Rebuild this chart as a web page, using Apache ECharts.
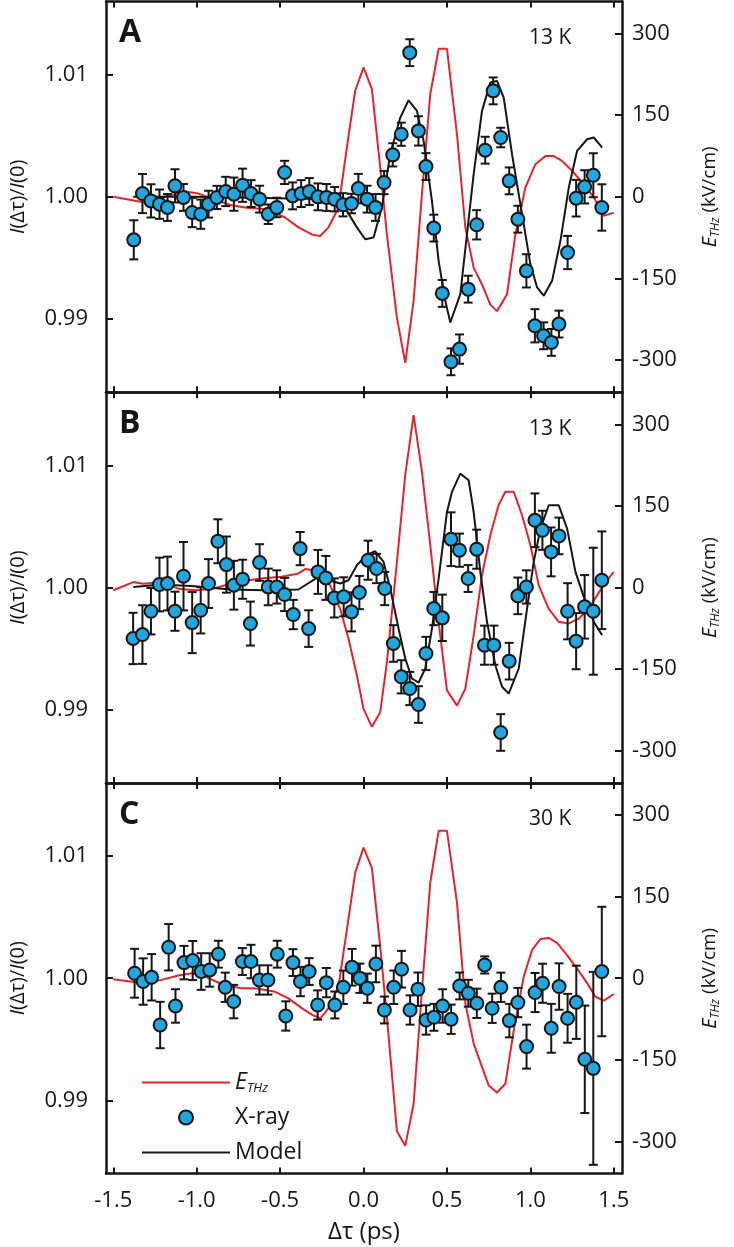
<!DOCTYPE html>
<html><head><meta charset="utf-8">
<script src="https://cdn.jsdelivr.net/npm/echarts@6/dist/echarts.min.js"></script>
<style>html,body{margin:0;padding:0;background:#fff}#c{width:734px;height:1247px}</style>
</head><body><div id="c"></div>
<script>
const xTicks = [-1.5, -1.0, -0.5, 0, 0.5, 1.0, 1.5];
const leftTicks = [0.99, 1.00, 1.01];
const rightTicks = [-300, -150, 0, 150, 300];
const panelLetters = ['A', 'B', 'C'];
const panelTemps = ['13 K', '13 K', '30 K'];
const legendNames = ['E_THz', 'X-ray', 'Model'];

// E_THz (kV/cm) traces [delay ps, field]
const ethzA = [[-1.50,0],[-1.32,-10],[-1.07,10],[-0.99,6],[-0.80,-15],[-0.70,-20],[-0.58,-23],[-0.47,-38],[-0.39,-56],[-0.31,-69],[-0.26,-72],[-0.21,-56],[-0.15,-20],[-0.10,91],[-0.05,195],[0.00,238],[0.05,198],[0.10,54],[0.14,-69],[0.20,-222],[0.25,-305],[0.30,-191],[0.35,5],[0.40,189],[0.45,272],[0.50,272],[0.56,115],[0.61,-56],[0.66,-130],[0.71,-161],[0.76,-198],[0.80,-210],[0.86,-179],[0.91,-69],[0.97,17],[1.03,60],[1.09,75],[1.14,75],[1.19,66],[1.25,48],[1.32,23],[1.38,-1],[1.44,-35],[1.50,-29]];
const ethzB = [[-1.50,-5],[-1.38,10],[-1.32,7],[-1.21,10],[-1.11,-2],[-1.01,-5],[-0.90,-2],[-0.80,7],[-0.70,13],[-0.60,17],[-0.49,20],[-0.39,26],[-0.35,34],[-0.30,32],[-0.25,23],[-0.20,4],[-0.14,-39],[-0.09,-94],[-0.04,-161],[0.00,-223],[0.05,-256],[0.10,-229],[0.14,-137],[0.20,47],[0.25,207],[0.30,317],[0.35,213],[0.40,78],[0.45,-63],[0.50,-189],[0.56,-217],[0.61,-186],[0.66,-88],[0.71,23],[0.76,96],[0.81,152],[0.85,176],[0.90,176],[0.95,133],[1.00,78],[1.05,4],[1.11,-39],[1.17,-63],[1.23,-66],[1.29,-57],[1.35,-39],[1.40,-14],[1.45,10],[1.50,29]];
const ethzC = [[-1.50,-2],[-1.32,-9],[-1.21,-3],[-1.11,5],[-1.03,9],[-0.95,3],[-0.84,-12],[-0.74,-18],[-0.64,-19],[-0.53,-25],[-0.45,-37],[-0.37,-55],[-0.31,-67],[-0.26,-74],[-0.21,-55],[-0.15,-15],[-0.10,89],[-0.05,194],[0.00,240],[0.05,203],[0.10,58],[0.14,-71],[0.20,-281],[0.25,-308],[0.30,-231],[0.35,-22],[0.40,176],[0.45,271],[0.50,271],[0.56,139],[0.61,-46],[0.66,-120],[0.71,-163],[0.75,-197],[0.80,-210],[0.85,-194],[0.90,-96],[0.96,3],[1.01,52],[1.06,72],[1.11,74],[1.16,65],[1.21,46],[1.27,22],[1.34,-9],[1.39,-34],[1.44,-41],[1.50,-29]];

// Model I(dt)/I(0) [delay ps, value]
const modelA = [[-1.38,1.0000],[-1.01,1.0000],[-0.60,0.9999],[-0.19,0.9998],[-0.10,0.99885],[-0.04,0.9975],[0.01,0.99653],[0.06,0.99667],[0.11,0.99913],[0.16,1.00349],[0.22,1.00649],[0.27,1.00791],[0.32,1.00704],[0.36,1.00458],[0.41,0.99967],[0.45,0.99476],[0.49,0.99149],[0.52,0.98971],[0.58,0.99203],[0.62,0.99694],[0.66,1.00186],[0.71,1.00704],[0.76,1.00936],[0.80,1.0095],[0.84,1.00813],[0.89,1.00349],[0.95,0.99858],[1.00,0.99449],[1.04,0.99258],[1.08,0.9919],[1.13,0.99312],[1.18,0.9964],[1.23,1.00076],[1.28,1.00377],[1.34,1.00472],[1.38,1.00486],[1.43,1.00404]];
const modelB = [[-1.38,1.00005],[-1.21,1.00025],[-1.01,1.0001],[-0.80,0.99984],[-0.60,0.99978],[-0.39,0.99984],[-0.27,1.00087],[-0.14,1.00033],[-0.09,1.0006],[-0.04,1.00183],[0.02,1.0027],[0.07,1.00297],[0.12,1.0021],[0.16,0.99992],[0.21,0.99664],[0.25,0.99419],[0.29,0.99255],[0.33,0.99222],[0.37,0.99337],[0.41,0.99664],[0.45,1.00074],[0.50,1.00619],[0.53,1.00783],[0.58,1.00933],[0.63,1.00879],[0.66,1.00619],[0.70,1.00128],[0.74,0.99719],[0.79,0.99364],[0.83,0.99187],[0.87,0.99132],[0.93,0.99337],[0.98,0.99828],[1.02,1.0021],[1.06,1.00483],[1.11,1.00674],[1.17,1.00674],[1.22,1.00483],[1.27,1.00128],[1.33,0.99883],[1.38,0.99719],[1.43,0.9961]];
const modelC = [];

// X-ray [delay ps, I(dt)/I(0), error]
const xrayA = [[-1.377,0.99648,0.0016],[-1.325,1.00027,0.0016],[-1.274,0.99967,0.00136],[-1.223,0.9994,0.0012],[-1.175,0.99913,0.0011],[-1.130,1.0009,0.00136],[-1.079,0.99995,0.0011],[-1.027,0.99872,0.0012],[-0.976,0.99858,0.0012],[-0.929,0.9994,0.0011],[-0.879,0.99995,0.00095],[-0.826,1.00044,0.0012],[-0.777,1.00022,0.00136],[-0.725,1.00095,0.00136],[-0.674,1.00027,0.0011],[-0.623,0.99981,0.0011],[-0.571,0.99858,0.0008],[-0.520,0.99913,0.0008],[-0.473,1.002,0.00095],[-0.425,1.00008,0.0011],[-0.374,1.00027,0.0011],[-0.325,1.00044,0.0011],[-0.273,1.0,0.0011],[-0.222,0.99995,0.0011],[-0.173,0.99981,0.001],[-0.123,0.99935,0.00095],[-0.072,0.99945,0.0008],[-0.031,1.00068,0.0012],[0.021,0.99981,0.0011],[0.072,0.99913,0.0011],[0.123,1.00117,0.00095],[0.175,1.00344,0.00095],[0.226,1.00513,0.00095],[0.277,1.01181,0.0011],[0.329,1.0054,0.0012],[0.374,1.00248,0.0011],[0.421,0.99744,0.0011],[0.472,0.99209,0.0011],[0.524,0.98649,0.0011],[0.575,0.98753,0.0012],[0.627,0.99244,0.0011],[0.678,0.99771,0.0012],[0.729,1.00382,0.0011],[0.777,1.00868,0.0011],[0.822,1.00486,0.0008],[0.873,1.00131,0.0011],[0.925,0.99817,0.0011],[0.976,0.99394,0.00136],[1.027,0.98944,0.00136],[1.079,0.98862,0.0011],[1.126,0.98808,0.0011],[1.171,0.98958,0.0011],[1.223,0.99544,0.00136],[1.274,0.99989,0.0015],[1.325,1.00082,0.00136],[1.377,1.00177,0.0018],[1.428,0.99913,0.0019]];
const xrayB = [[-1.381,0.99583,0.0021],[-1.325,0.99615,0.0024],[-1.274,0.99806,0.0019],[-1.223,1.00025,0.0022],[-1.175,1.00033,0.0022],[-1.130,0.99806,0.0016],[-1.079,1.00093,0.0028],[-1.027,0.99713,0.0025],[-0.976,0.99814,0.0019],[-0.929,1.00033,0.002],[-0.873,1.00379,0.0018],[-0.822,1.00188,0.0023],[-0.777,1.00019,0.002],[-0.725,1.00068,0.0016],[-0.678,0.99705,0.0018],[-0.623,1.00205,0.0015],[-0.571,1.00005,0.0015],[-0.520,1.00005,0.00136],[-0.473,0.99943,0.00136],[-0.421,0.99779,0.0012],[-0.380,1.00319,0.00136],[-0.329,0.99664,0.0015],[-0.273,1.00128,0.0018],[-0.226,1.00079,0.0018],[-0.175,0.99915,0.0016],[-0.119,0.99924,0.0016],[-0.072,0.99801,0.0016],[-0.025,0.99959,0.00136],[0.027,1.00224,0.0016],[0.078,1.00156,0.0012],[0.127,0.99992,0.00136],[0.179,0.99542,0.0015],[0.226,0.99269,0.00136],[0.277,0.99173,0.00136],[0.329,0.99042,0.0015],[0.374,0.9946,0.00136],[0.421,0.99828,0.00136],[0.472,0.99752,0.0019],[0.524,1.00396,0.0022],[0.575,1.00306,0.00136],[0.627,1.00074,0.0011],[0.678,1.00314,0.0016],[0.725,0.99528,0.0016],[0.781,0.99528,0.0016],[0.822,0.98813,0.0015],[0.873,0.99397,0.0015],[0.925,0.99932,0.0015],[0.976,1.00005,0.00136],[1.027,1.00551,0.0022],[1.072,1.00469,0.0016],[1.124,1.00292,0.002],[1.171,1.00423,0.0015],[1.223,0.99806,0.0023],[1.274,0.99561,0.0023],[1.325,0.99842,0.0026],[1.377,0.99806,0.0052],[1.428,1.0006,0.004]];
const xrayC = [[-1.372,1.00041,0.002],[-1.321,0.99973,0.0019],[-1.270,1.00008,0.0019],[-1.219,0.99617,0.0019],[-1.168,1.00254,0.0019],[-1.127,0.99773,0.00137],[-1.076,1.00128,0.00137],[-1.024,1.00145,0.0016],[-0.973,1.00055,0.0015],[-0.922,1.00068,0.00137],[-0.870,1.00197,0.0011],[-0.829,0.99926,0.0012],[-0.778,0.99809,0.00137],[-0.726,1.00137,0.0011],[-0.675,1.00137,0.00137],[-0.624,0.99986,0.0012],[-0.573,0.99986,0.0012],[-0.517,1.00197,0.0011],[-0.466,0.99691,0.0012],[-0.423,1.00128,0.0011],[-0.378,0.99973,0.0012],[-0.326,1.00055,0.0011],[-0.275,0.99781,0.0012],[-0.223,0.99964,0.0012],[-0.172,0.99781,0.0011],[-0.121,0.99926,0.00137],[-0.069,1.0009,0.0015],[-0.022,1.0,0.0012],[0.023,0.99918,0.0012],[0.074,1.00117,0.0015],[0.125,0.9974,0.0011],[0.181,0.99926,0.00137],[0.228,1.00074,0.0015],[0.279,0.9974,0.0012],[0.326,0.9991,0.00137],[0.375,0.99658,0.0012],[0.422,0.9968,0.0011],[0.474,0.99773,0.00137],[0.525,0.99664,0.0012],[0.576,0.99937,0.0011],[0.628,0.99877,0.0011],[0.679,0.99795,0.0012],[0.726,1.00109,0.0007],[0.771,0.99754,0.0012],[0.823,0.99926,0.0012],[0.874,0.99653,0.00137],[0.925,0.99801,0.0012],[0.977,0.9944,0.0018],[1.028,0.99883,0.0016],[1.073,0.99959,0.0016],[1.125,0.9959,0.002],[1.172,0.99932,0.0019],[1.223,0.99672,0.002],[1.275,0.99803,0.003],[1.326,0.99336,0.0044],[1.377,0.99262,0.0079],[1.428,1.00055,0.0053]];

const ethzAll = [ethzA, ethzB, ethzC];
const modelAll = [modelA, modelB, modelC];
const xrayAll = [xrayA, xrayB, xrayC];

const FONT = '"Open Sans", "DejaVu Sans", sans-serif';
const RED = '#e1252d', BLACK = '#161616', BLUE = '#23a6de';
const GTOP = 1.5, GH = 390.7;

const grids = [], xAxes = [], yAxes = [], series = [], graphics = [];
for (let i = 0; i < 3; i++) {
  grids.push({left: 103, right: 112, top: GTOP + i * GH, height: GH});
}
const axLine = {show: true, onZero: false, lineStyle: {color: BLACK, width: 2.5}};
const tickStyle = {color: BLACK, width: 2};
for (let i = 0; i < 3; i++) {
  const last = i === 2;
  xAxes.push({
    type: 'value', gridIndex: i, position: 'bottom', min: -1.5435, max: 1.549,
    axisLine: axLine,
    axisTick: {show: true, inside: true, length: 6, customValues: xTicks, lineStyle: tickStyle},
    axisLabel: {show: last, customValues: xTicks, formatter: v => v.toFixed(1), fontFamily: FONT, fontSize: 22, color: BLACK, margin: 16},
    splitLine: {show: false},
    name: last ? 'Δτ (ps)' : '', nameLocation: 'middle', nameGap: 47,
    nameTextStyle: {fontFamily: FONT, fontSize: 24, color: BLACK}
  });
}
for (let i = 0; i < 3; i++) {
  xAxes.push({
    type: 'value', gridIndex: i, position: 'top', min: -1.5435, max: 1.549,
    axisLine: axLine,
    axisTick: {show: true, inside: true, length: 6, customValues: xTicks, lineStyle: tickStyle},
    axisLabel: {show: false}, splitLine: {show: false}
  });
}
for (let i = 0; i < 3; i++) {
  yAxes.push({
    type: 'value', gridIndex: i, position: 'left', min: 0.984, max: 1.016,
    axisLine: axLine,
    axisTick: {show: true, inside: true, length: 7, customValues: leftTicks, lineStyle: tickStyle},
    axisLabel: {customValues: leftTicks, formatter: v => v.toFixed(2), fontFamily: FONT, fontSize: 22, color: BLACK, margin: 18},
    splitLine: {show: false},
    name: '{i|I}(Δτ)/{i|I}(0)', nameLocation: 'middle', nameRotate: 90, nameGap: 78,
    nameTextStyle: {fontFamily: FONT, fontSize: 20, color: BLACK,
      rich: {i: {fontFamily: FONT, fontSize: 20, fontStyle: 'italic', color: BLACK}}}
  });
  yAxes.push({
    type: 'value', gridIndex: i, position: 'right', min: -359, max: 359,
    axisLine: axLine,
    axisTick: {show: true, inside: true, length: 7, customValues: rightTicks, lineStyle: tickStyle},
    axisLabel: {customValues: rightTicks, fontFamily: FONT, fontSize: 22, color: BLACK, margin: 10},
    splitLine: {show: false},
    name: '{e|E}{s|THz} (kV/cm)', nameLocation: 'middle', nameRotate: 90, nameGap: 76,
    nameTextStyle: {fontFamily: FONT, fontSize: 19, color: BLACK,
      rich: {
        e: {fontFamily: FONT, fontSize: 20, fontStyle: 'italic', color: BLACK, lineHeight: 24},
        s: {fontFamily: FONT, fontSize: 12, fontStyle: 'italic', color: BLACK, lineHeight: 12, padding: [12, 0, 0, 0]}
      }}
  });
}

function errRender(params, api) {
  const x = api.value(0), y = api.value(1), e = api.value(2);
  const t = api.coord([x, y + e]), b = api.coord([x, y - e]);
  const hw = 4.5, st = {stroke: BLACK, lineWidth: 2};
  return {type: 'group', children: [
    {type: 'line', shape: {x1: t[0], y1: t[1], x2: b[0], y2: b[1]}, style: st},
    {type: 'line', shape: {x1: t[0] - hw, y1: t[1], x2: t[0] + hw, y2: t[1]}, style: st},
    {type: 'line', shape: {x1: b[0] - hw, y1: b[1], x2: b[0] + hw, y2: b[1]}, style: st}
  ]};
}

for (let i = 0; i < 3; i++) {
  series.push({
    name: 'E_THz', type: 'line', xAxisIndex: i, yAxisIndex: 2 * i + 1, data: ethzAll[i],
    symbol: 'none', lineStyle: {color: RED, width: 2}, itemStyle: {color: RED}, z: 1, animation: false
  });
  series.push({
    name: 'Model', type: 'line', xAxisIndex: i, yAxisIndex: 2 * i, data: modelAll[i],
    symbol: 'none', lineStyle: {color: BLACK, width: 2}, itemStyle: {color: BLACK}, z: 2, animation: false
  });
  series.push({
    type: 'custom', xAxisIndex: i, yAxisIndex: 2 * i, data: xrayAll[i],
    renderItem: errRender, encode: {x: 0, y: 1}, z: 3, animation: false, silent: true
  });
  series.push({
    name: 'X-ray', type: 'scatter', xAxisIndex: i, yAxisIndex: 2 * i, data: xrayAll[i].map(d => [d[0], d[1]]),
    symbol: 'circle', symbolSize: 13,
    itemStyle: {color: BLUE, borderColor: BLACK, borderWidth: 2, opacity: 1}, z: 4, animation: false
  });
  graphics.push({type: 'text', x: 119, y: 33 + i * GH, style: {text: panelLetters[i], font: 'bold 32px ' + FONT, fill: BLACK, verticalAlign: 'middle'}});
  graphics.push({type: 'text', x: 529, y: 38 + i * GH, style: {text: panelTemps[i], font: '21px ' + FONT, fill: BLACK, verticalAlign: 'middle'}});
}

const chart = echarts.init(document.getElementById('c'), null, {renderer: 'canvas'});
chart.setOption({
  animation: false,
  backgroundColor: '#fff',
  grid: grids, xAxis: xAxes, yAxis: yAxes, series: series, graphic: graphics,
  legend: {
    data: [
      {name: legendNames[0], itemStyle: {opacity: 0}},
      {name: legendNames[1]},
      {name: legendNames[2], itemStyle: {opacity: 0}}
    ],
    orient: 'vertical', left: 136, top: 1065,
    itemWidth: 88, itemHeight: 14, itemGap: 10, itemTextGap: 12,
    textStyle: {fontFamily: FONT, fontSize: 23, color: BLACK, lineHeight: 25,
      rich: {
        e: {fontFamily: FONT, fontSize: 23, fontStyle: 'italic', color: BLACK, lineHeight: 25},
        s: {fontFamily: FONT, fontSize: 13, fontStyle: 'italic', color: BLACK, lineHeight: 13, padding: [12, 0, 0, 0]}
      }},
    formatter: n => n === 'E_THz' ? '{e|E}{s|THz}' : n,
    selectedMode: false
  }
});
</script>
</body></html>
